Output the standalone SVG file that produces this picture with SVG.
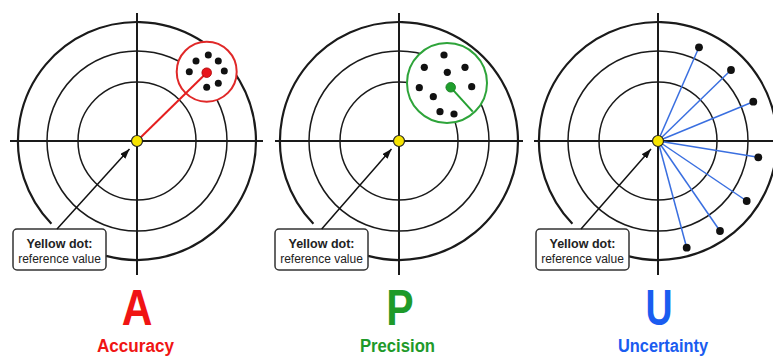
<svg xmlns="http://www.w3.org/2000/svg" width="773" height="356" viewBox="0 0 773 356">
  <defs>
    <style>
      .ring { fill: none; stroke: #1a1a1a; stroke-width: 1.5; }
      .outer { fill: none; stroke: #1a1a1a; stroke-width: 2.2; }
      .axis { stroke: #1a1a1a; stroke-width: 2; }
      .dot { fill: #111; }
      .ref { fill: #f7e400; stroke: #222; stroke-width: 1.2; }
      .box { fill: #fff; stroke: #333; stroke-width: 1.5; }
      .t1 { font-family: "Liberation Sans", Arial, sans-serif; font-weight: bold; font-size: 12.5px; fill: #222; text-anchor: middle; }
      .t2 { font-family: "Liberation Sans", Arial, sans-serif; font-size: 12px; fill: #222; text-anchor: middle; }
      .big { font-family: "Liberation Sans", Arial, sans-serif; font-weight: bold; font-size: 50px; text-anchor: middle; }
      .lab { font-family: "Liberation Sans", Arial, sans-serif; font-weight: bold; font-size: 18px; text-anchor: middle; }
      .conn { stroke: #111; stroke-width: 1.5; fill: none; }
      .blue { stroke: #3a6fe0; stroke-width: 1.5; }
      .red { fill: #f01414; }
      .green { fill: #1e9a2a; }
      .bluet { fill: #1a5cf0; }
    </style>
    <marker id="ah" viewBox="0 0 10 7" refX="10" refY="3.5" markerWidth="10" markerHeight="7" markerUnits="userSpaceOnUse" orient="auto">
      <path d="M0,0 L10,3.5 L0,7 z" fill="#111"/>
    </marker>
    <g id="target">
      <path class="outer" d="M 51.4 223.7 A 119 119 0 1 1 106 255.9"/>
      <circle class="ring" cx="137" cy="141" r="90"/>
      <circle class="ring" cx="137" cy="141" r="59"/>
      <line class="axis" x1="137" y1="13" x2="137" y2="275"/>
    </g>
  </defs>

  <rect width="773" height="356" fill="#fff"/>

  <!-- Panel A: Accuracy -->
  <g id="panel-accuracy">
    <use href="#target"/>
    <line class="axis" x1="10" y1="141" x2="263" y2="141"/>
    <g id="accuracy-cluster">
      <circle cx="206.7" cy="71.7" r="30" fill="#fff" stroke="#e02828" stroke-width="2"/>
      <line x1="137" y1="141" x2="206.7" y2="72.7" stroke="#e51f1f" stroke-width="2"/>
      <circle class="dot" cx="208.3" cy="55" r="3.5"/>
      <circle class="dot" cx="196" cy="61" r="3.5"/>
      <circle class="dot" cx="218.3" cy="61" r="3.5"/>
      <circle class="dot" cx="189.3" cy="71.7" r="3.5"/>
      <circle class="dot" cx="224.3" cy="71" r="3.5"/>
      <circle class="dot" cx="206.7" cy="87.3" r="3.5"/>
      <circle class="dot" cx="218.3" cy="83.3" r="3.5"/>
      <circle cx="206.7" cy="72.7" r="4.8" fill="#e8141b" stroke="#a00" stroke-width="0.8"/>
    </g>
    <circle class="ref" cx="137" cy="141" r="5.5"/>
    <g id="callout-a">
      <rect class="box" x="13" y="229" width="93" height="41" rx="4"/>
      <text class="t1" x="59.5" y="248">Yellow dot:</text>
      <text class="t2" x="59.5" y="262.5">reference value</text>
    </g>
    <g id="label-a">
      <text class="big red" transform="translate(137,325) scale(0.85,1)">A</text>
      <text class="lab red" x="135.5" y="352" textLength="77" lengthAdjust="spacingAndGlyphs">Accuracy</text>
    </g>
  </g>

  <!-- Panel P: Precision -->
  <g id="panel-precision" transform="translate(262,0)">
    <use href="#target"/>
    <line class="axis" x1="13" y1="141" x2="261" y2="141"/>
    <g id="precision-cluster">
      <circle cx="185" cy="83" r="40" fill="#fff" stroke="#2ea43a" stroke-width="2"/>
      <line x1="188.7" y1="87.3" x2="210.7" y2="111.7" stroke="#25a032" stroke-width="2"/>
      <circle class="dot" cx="182" cy="55" r="3.6"/>
      <circle class="dot" cx="162.3" cy="67.3" r="3.6"/>
      <circle class="dot" cx="203" cy="67.3" r="3.6"/>
      <circle class="dot" cx="185.3" cy="72.3" r="3.6"/>
      <circle class="dot" cx="157.3" cy="87.7" r="3.6"/>
      <circle class="dot" cx="209.7" cy="86.7" r="3.6"/>
      <circle class="dot" cx="171.3" cy="96.7" r="3.6"/>
      <circle class="dot" cx="178" cy="111.7" r="3.6"/>
      <circle class="dot" cx="192" cy="114" r="3.6"/>
      <circle cx="188.7" cy="87.3" r="4.8" fill="#1f9e2c" stroke="#137a1e" stroke-width="0.8"/>
    </g>
    <circle class="ref" cx="137" cy="141" r="5.5"/>
    <g id="callout-p">
      <rect class="box" x="13" y="229" width="93" height="41" rx="4"/>
      <text class="t1" x="59.5" y="248">Yellow dot:</text>
      <text class="t2" x="59.5" y="262.5">reference value</text>
    </g>
    <g id="label-p">
      <text class="big green" transform="translate(138,325) scale(0.82,1)">P</text>
      <text class="lab green" x="135.5" y="352" textLength="75" lengthAdjust="spacingAndGlyphs">Precision</text>
    </g>
  </g>

  <!-- Panel U: Uncertainty -->
  <g id="panel-uncertainty" transform="translate(521,0)">
    <use href="#target"/>
    <line class="axis" x1="13" y1="141" x2="252" y2="141"/>
    <g id="uncertainty-rays">
      <line class="blue" x1="137" y1="141" x2="178" y2="47.3"/>
      <line class="blue" x1="137" y1="141" x2="210" y2="70"/>
      <line class="blue" x1="137" y1="141" x2="232.3" y2="101.7"/>
      <line class="blue" x1="137" y1="141" x2="237.3" y2="157.3"/>
      <line class="blue" x1="137" y1="141" x2="225.7" y2="201"/>
      <line class="blue" x1="137" y1="141" x2="199" y2="231"/>
      <line class="blue" x1="137" y1="141" x2="165.7" y2="247.7"/>
      <circle class="dot" cx="178" cy="47.3" r="3.9"/>
      <circle class="dot" cx="210" cy="70" r="3.9"/>
      <circle class="dot" cx="232.3" cy="101.7" r="3.9"/>
      <circle class="dot" cx="237.3" cy="157.3" r="3.9"/>
      <circle class="dot" cx="225.7" cy="201" r="3.9"/>
      <circle class="dot" cx="199" cy="231" r="3.9"/>
      <circle class="dot" cx="165.7" cy="247.7" r="3.9"/>
    </g>
    <circle class="ref" cx="137" cy="141" r="5.5"/>
    <g id="callout-u">
      <rect class="box" x="15" y="229" width="93" height="41" rx="4"/>
      <text class="t1" x="61.5" y="248">Yellow dot:</text>
      <text class="t2" x="61.5" y="262.5">reference value</text>
    </g>
    <g id="label-u">
      <text class="big bluet" transform="translate(138,325) scale(0.75,1)">U</text>
      <text class="lab bluet" x="142" y="352" textLength="90" lengthAdjust="spacingAndGlyphs">Uncertainty</text>
    </g>
  </g>

  <!-- Connectors: callout arrows to the yellow reference dots -->
  <g id="connectors">
    <line class="conn" x1="57" y1="229" x2="129.5" y2="149" marker-end="url(#ah)"/>
    <line class="conn" x1="321.7" y1="229" x2="391.5" y2="149" marker-end="url(#ah)"/>
    <line class="conn" x1="581" y1="229" x2="651" y2="149" marker-end="url(#ah)"/>
  </g>
</svg>
